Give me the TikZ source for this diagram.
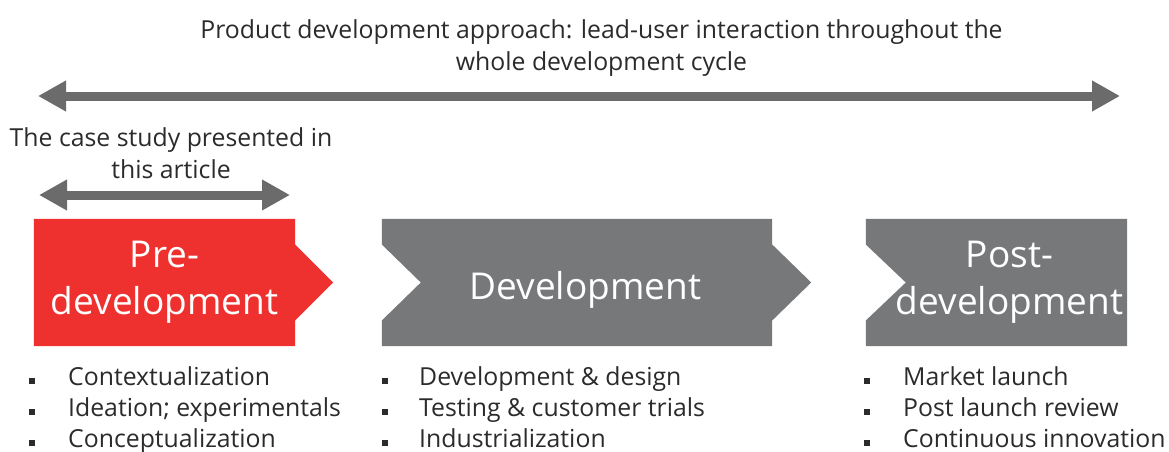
\documentclass[tikz,border=0pt]{standalone}
\usepackage{fontspec}
\setmainfont{Open Sans}
\usetikzlibrary{positioning,arrows.meta,calc}
\definecolor{stagered}{HTML}{EE312F}
\definecolor{stagegray}{HTML}{76787A}
\definecolor{arrowgray}{HTML}{6B6B6B}
\definecolor{textgray}{HTML}{2B2B2B}
\pgfdeclarelayer{background}
\pgfsetlayers{background,main}
\tikzset{
     box/.style={rectangle, minimum height=127pt, inner sep=0pt},
     stagetext/.style={text=white, align=center, inner sep=0pt,
                   font=\fontsize{37}{47}\selectfont},
     note/.style={text=textgray, align=center, inner sep=0pt,
                   font=\fontsize{24.8}{32.5}\selectfont},
     item/.style={anchor=base west, text=textgray, inner sep=0pt,
                   font=\fontsize{24.8}{32}\selectfont},
     bullet/.style={fill=textgray, minimum width=6.5pt, minimum height=6pt, inner sep=0pt},
     span/.style={draw=arrowgray, line width=9pt,
                   {Triangle[length=28pt,width=29pt]}-{Triangle[length=28pt,width=29pt]}}
     }

\begin{document}
\begin{tikzpicture}[x=1pt, y=-1pt]
\useasboundingbox (0,0) rectangle (1169,452);

% arrows and their labels
\node [note] (approach) at (601.5,48) {Product development approach: lead-user interaction throughout the\\whole development cycle};
\coordinate (cycleL) at (38,96);
\coordinate (cycleR) at (1120,96);
\draw [span] (cycleL) -- (cycleR);

\node [note] (study) at (171,153) {The case study presented in\\this article};
\coordinate (studyL) at (39,195);
\coordinate (studyR) at (290,195);
\draw [span] (studyL) -- (studyR);

% stage boxes
\node [box, minimum width=261pt] (pre) at (164.5,282.5) {};
\node [box, minimum width=390pt] (dev) at (577,282.5) {};
\node [box, minimum width=261pt] (post) at (996.5,282.5) {};

\begin{pgfonlayer}{background}
\fill [stagered] (pre.north west) -- (pre.north east) -- ($(pre.east)+(0,-38)$)
      -- ++(38,38) -- ++(-38,38) -- (pre.south east) -- (pre.south west) -- cycle;
\fill [stagegray] (dev.north west) -- (dev.north east) -- ($(dev.east)+(0,-38)$)
      -- ++(39,38) -- ++(-39,38) -- (dev.south east) -- (dev.south west)
      -- ($(dev.west)+(0,38)$) -- ++(39,-38) -- ++(-39,-38) -- cycle;
\fill [stagegray] (post.north west) -- (post.north east) -- (post.south east)
      -- (post.south west) -- ($(post.west)+(0,38)$) -- ++(40,-38) -- ++(-40,-38) -- cycle;
\end{pgfonlayer}

\node [stagetext] (pretext) at (pre) {Pre-\\development};
\node [stagetext, anchor=base] (devtext) at (585.5,299) {Development};
\node [stagetext] (posttext) at ($(post)+(13,0)$) {Post-\\development};

% bullet lists
\foreach \t [count=\i] in {Contextualization, Ideation; experimentals, Conceptualization}{
  \node [item] (pre-item-\i) at (68,{385.5+31*(\i-1)}) {\t};
  \node [bullet] (pre-dot-\i) at ($(pre-item-\i.base west)+(-36,-5)$) {};
}
\foreach \t [count=\i] in {Development \& design, Testing \& customer trials, Industrialization}{
  \node [item] (dev-item-\i) at (419,{385.5+31*(\i-1)}) {\t};
  \node [bullet] (dev-dot-\i) at ($(dev-item-\i.base west)+(-34,-5)$) {};
}
\foreach \t [count=\i] in {Market launch, Post launch review, Continuous innovation}{
  \node [item] (post-item-\i) at (903,{385.5+31*(\i-1)}) {\t};
  \node [bullet] (post-dot-\i) at ($(post-item-\i.base west)+(-36,-5)$) {};
}
\end{tikzpicture}
\end{document}
